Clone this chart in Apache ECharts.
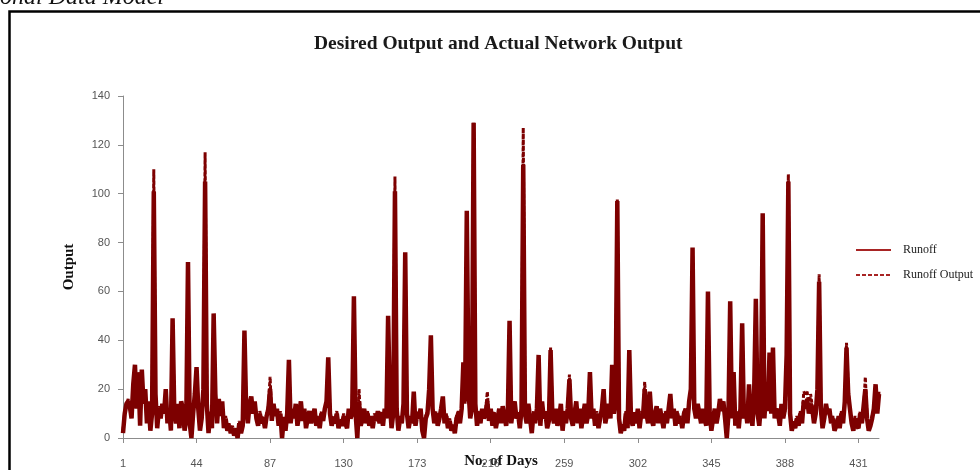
<!DOCTYPE html>
<html>
<head>
<meta charset="utf-8">
<script src="https://cdn.jsdelivr.net/npm/echarts@6/dist/echarts.min.js"></script>
<style>html,body{margin:0;padding:0;background:#fff;}#c{width:980px;height:470px;}</style>
</head>
<body>
<div id="c"></div>
<script>
// Runoff (desired output), days 1..443
const runoff = [
2,10,14,15,13,8,22,30,12,26,
5,28,14,20,6,15,3,10,101,18,
4,12,8,14,10,20,6,12,3,49,
10,6,14,4,15,12,3,8,72,6,
0,10,18,29,12,3,8,20,105,14,
2,10,4,51,18,6,16,9,15,4,
8,3,5,2,4,1,3,0,6,2,
5,44,12,6,14,17,10,15,8,5,
10,6,8,4,9,12,20,7,14,9,
12,5,10,0,8,3,10,32,6,12,
8,14,5,10,15,7,12,4,8,11,
6,9,12,5,8,4,10,7,12,15,
33,10,5,8,6,10,4,7,5,9,
6,4,12,8,10,58,10,0,15,5,
8,12,6,10,5,8,4,9,7,11,
6,10,5,12,8,50,15,4,10,101,
12,3,8,6,14,76,10,4,8,6,
19,5,10,8,12,3,0,8,10,20,
42,12,6,10,5,8,12,17,6,9,
4,7,3,5,2,8,10,6,12,31,
15,93,20,8,12,129,14,5,10,6,
12,8,10,15,7,12,5,10,4,8,
12,6,13,9,5,10,48,6,12,15,
8,10,4,12,112,10,6,14,8,2,
10,6,12,34,5,15,8,10,4,7,
36,10,6,12,5,8,14,3,10,6,
12,24,8,5,10,15,6,12,4,9,
14,6,10,27,8,12,5,10,4,8,
12,20,6,10,14,8,30,10,15,97,
8,2,5,3,10,4,36,8,5,10,
6,12,4,10,8,20,10,6,19,8,
5,10,13,6,12,8,4,10,6,12,
18,8,12,5,10,6,8,4,10,12,
6,15,20,78,12,8,14,10,6,12,
8,5,60,10,3,8,12,6,10,16,
12,15,8,0,10,56,8,27,5,10,
4,12,47,8,12,6,22,10,5,18,
57,10,5,14,92,8,20,12,35,10,
37,8,12,10,5,14,8,12,34,105,
10,3,6,4,8,5,10,6,15,12,
16,10,14,12,6,10,20,64,12,4,
8,14,10,12,6,8,3,5,8,4,
10,6,15,37,18,12,6,3,8,5,
4,10,6,13,20,8,3,5,8,12,
22,10,18
];
// Runoff Output (network output), days 1..443
const runoffOutput = [
3,11,13,16,12,9,20,28,14,27,
6,25,15,19,7,14,4,11,110,16,
5,13,9,13,11,18,7,11,4,48,
11,7,13,5,14,11,4,9,71,7,
1,11,17,28,13,4,9,19,117,15,
3,11,5,50,17,7,15,10,14,5,
9,4,6,3,5,2,4,1,7,3,
6,43,13,7,13,16,11,14,9,6,
11,7,9,5,10,13,25,8,13,10,
11,6,11,1,9,4,11,31,7,11,
9,13,6,11,14,8,11,5,9,10,
7,10,11,6,9,5,11,8,11,16,
32,11,6,9,7,11,5,8,6,10,
7,5,11,9,11,57,11,1,20,6,
9,11,7,11,6,9,5,10,8,10,
7,11,6,11,9,49,14,5,11,107,
11,4,9,7,13,75,11,5,9,7,
16,6,11,9,11,4,1,9,11,19,
41,11,7,11,6,9,11,15,7,10,
5,8,4,6,3,9,11,7,11,30,
14,92,18,9,11,129,13,6,11,7,
11,9,11,19,8,11,6,11,5,9,
11,7,12,10,6,11,47,7,11,14,
9,11,5,11,127,11,7,13,9,3,
11,7,11,33,6,14,9,11,5,8,
37,11,7,11,6,9,13,4,11,7,
11,26,9,6,11,14,7,11,5,10,
13,7,11,26,9,11,6,11,5,9,
11,19,7,11,13,9,28,11,14,98,
9,3,6,4,11,5,36,9,6,11,
7,11,5,11,9,23,11,7,17,9,
6,11,12,7,11,9,5,11,7,11,
17,9,11,6,11,7,9,5,11,11,
7,14,19,77,11,9,13,11,7,11,
9,6,59,11,4,9,11,7,11,15,
11,14,9,1,11,55,9,26,6,11,
5,11,46,9,11,7,21,11,6,17,
56,11,6,13,91,9,19,11,34,11,
36,9,11,11,6,13,9,11,22,108,
11,4,7,5,9,6,11,7,19,18,
19,11,18,13,7,11,19,67,11,5,
9,13,11,11,7,9,4,6,9,5,
11,7,14,39,20,11,7,4,9,6,
5,11,7,12,25,9,4,6,9,11,
22,11,19
];
const days = runoff.map((_, i) => String(i + 1));
const seriesNames = ['Runoff', 'Runoff Output'];
const titleText = 'Desired Output and Actual Network Output';
const xName = 'No. of Days';
const yName = 'Output';
const captionText = 'onal Data Model';

const chart = echarts.init(document.getElementById('c'), null, {renderer: 'canvas'});
const lineColor = '#7d0000';
chart.setOption({
  animation: false,
  backgroundColor: '#fff',
  title: {
    text: titleText, left: 309, top: 29,
    textStyle: {fontFamily: 'Liberation Serif', fontWeight: 'bold', fontSize: 19.5, color: '#1a1a1a'}
  },
  graphic: [
    {type: 'rect', shape: {x: 9.5, y: 11.5, width: 1000, height: 500}, style: {fill: 'none', stroke: '#000', lineWidth: 2.5}, z: -1},
    {type: 'text', left: 0, top: -14, style: {text: captionText, font: 'italic 24px "Liberation Serif"', fill: '#111'}}
  ],
  legend: {
    orient: 'vertical', left: 850, top: 239, itemGap: 13,
    itemWidth: 35, itemHeight: 14,
    itemStyle: {opacity: 0},
    lineStyle: {color: '#a82424', width: 2},
    textStyle: {fontFamily: 'Liberation Serif', fontSize: 12, color: '#222', padding: [0, 0, 0, 7]},
    data: seriesNames
  },
  grid: {left: 123, right: 101, top: 96, bottom: 32, outerBoundsMode: 'none', containLabel: false},
  xAxis: {
    type: 'category', data: days, boundaryGap: false,
    name: xName, nameLocation: 'middle', nameGap: 16, nameMoveOverlap: false,
    nameTextStyle: {fontFamily: 'Liberation Serif', fontWeight: 'bold', fontSize: 15, color: '#111'},
    axisLine: {lineStyle: {color: '#8c8c8c', width: 1}},
    axisTick: {show: true, interval: 42, length: 5, inside: false, lineStyle: {color: '#8c8c8c'}},
    axisLabel: {interval: 42, margin: 20, fontFamily: 'Liberation Sans', fontSize: 11, color: '#555'},
    splitLine: {show: false}
  },
  yAxis: {
    type: 'value', min: 0, max: 140, interval: 20,
    name: yName, nameLocation: 'middle', nameGap: 46, nameRotate: 90,
    nameTextStyle: {fontFamily: 'Liberation Serif', fontWeight: 'bold', fontSize: 15, color: '#111'},
    axisLine: {show: true, lineStyle: {color: '#8c8c8c', width: 1}},
    axisTick: {show: true, length: 5, lineStyle: {color: '#8c8c8c'}},
    axisLabel: {margin: 13, fontFamily: 'Liberation Sans', fontSize: 11, color: '#555'},
    splitLine: {show: false}
  },
  series: [
    {
      name: seriesNames[0], type: 'line', data: runoff, symbol: 'none', z: 3,
      lineStyle: {color: lineColor, width: 4.5}, itemStyle: {color: lineColor}
    },
    {
      name: seriesNames[1], type: 'line', data: runoffOutput, symbol: 'none', z: 2,
      lineStyle: {color: lineColor, width: 3, type: [4, 2]}, itemStyle: {color: lineColor}
    }
  ]
});
</script>
</body>
</html>
